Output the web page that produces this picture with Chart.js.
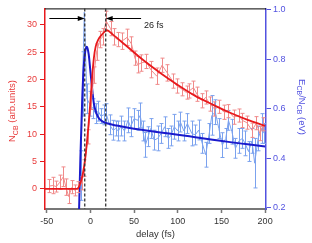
<!DOCTYPE html>
<html>
<head>
<meta charset="utf-8">
<script src="https://cdn.jsdelivr.net/npm/chart.js@4.4.1/dist/chart.umd.min.js"></script>
<style>
body { margin: 0; background: #fff; }
#wrap { width: 312px; height: 243px; position: relative; }
</style>
</head>
<body>
<div id="wrap"><canvas id="myChart"></canvas></div>
<script>
// Measured N_CB (left axis) with error bars
const redX = [-47,-43,-39,-35,-31,-28,-25,-21,-18,-14,-10,-7,-3,1,4,7,11,14,18,23,27,31,36,42,47,51,54,58,64,69,76,82,88,94,99,105,110,113,118,122,128,132,137,142,147,153,158,164,170,174,179,185,190,194,198];
const redY = [0.5,0.6,0.4,1.2,2.2,0.3,-1.4,0.3,-0.3,0.3,1.0,3.8,9.5,16,20.8,25,27.3,27.8,30.7,29.3,27.8,27.3,27.0,27.7,26.5,23.9,22.7,23.0,23.3,21.8,20.6,22.6,21.2,19.7,18.8,18.2,17.6,17.9,18.5,17.3,16.1,16.7,15.5,14.6,15.0,14.0,14.2,13.1,13.4,12.5,12.1,10.7,12.0,10.1,11.8];
const redErr = [1.2,1.5,1.0,1.3,1.8,1.5,1.3,1.2,1.0,1.0,1.2,1.5,1.3,1.5,1.5,1.5,1.5,1.5,1.8,1.3,1.5,1.3,1.5,1.5,1.3,1.3,1.5,1.5,1.3,1.5,1.5,1.3,1.5,1.3,1.3,1.2,1.2,1.3,1.2,1.3,1.3,1.2,1.3,1.3,1.2,1.3,1.2,1.3,1.2,1.3,1.2,1.3,1.2,1.3,1.2];

// Fit to N_CB
const redFitX = [-52,-15,-12,-9,-6,-4,-2,0,2,4,6,9,12,16,19,25,40,60,80,100,120,140,160,180,200];
const redFitY = [0,0,0.8,2.5,5.5,8.5,12,16,20.5,24,26,27.3,28,28.7,29,28.3,26.3,23.6,21.2,19,17,15.4,13.9,12.6,11.5];

// Measured E_CB/N_CB (right axis) with error bars
const blueX = [-11,-9,-7,-4,-1,3,6,9,12,15,18,22,26,29,32,35,39,43,46,50,54,57,60,63,66,69,73,77,81,85,89,92,96,100,103,107,111,116,120,124,128,132,136,139,143,147,151,155,158,162,166,170,174,177,181,185,188,192,196,199];
const blueY = [0.33,0.7,0.99,0.64,0.62,0.6,0.58,0.59,0.57,0.575,0.58,0.535,0.513,0.52,0.51,0.53,0.51,0.553,0.527,0.56,0.553,0.573,0.51,0.454,0.487,0.52,0.473,0.48,0.5,0.527,0.48,0.49,0.527,0.51,0.546,0.51,0.54,0.5,0.494,0.514,0.46,0.414,0.5,0.573,0.586,0.52,0.453,0.48,0.553,0.507,0.44,0.47,0.48,0.46,0.427,0.47,0.38,0.48,0.52,0.5];
const blueErr = [0.1,0.13,0,0.06,0.05,0.04,0.04,0.04,0.03,0.04,0.04,0.04,0.04,0.03,0.04,0.04,0.04,0.05,0.04,0.04,0.04,0.05,0.04,0.05,0.04,0.04,0.04,0.05,0.04,0.04,0.04,0.04,0.05,0.04,0.04,0.04,0.04,0.05,0.04,0.04,0.04,0.05,0.04,0.08,0.05,0.04,0.05,0.04,0.04,0.05,0.04,0.05,0.04,0.05,0.04,0.05,0.1,0.05,0.06,0.04];

// Fit to E_CB/N_CB
const blueFitX = [-13,-11.5,-9.5,-8,-6,-4,-2,0,2,4,7,10,14,20,30,45,60,80,100,120,140,160,180,200];
const blueFitY = [0.19,0.4,0.625,0.75,0.83,0.85,0.82,0.75,0.68,0.62,0.58,0.56,0.548,0.54,0.532,0.522,0.514,0.504,0.495,0.485,0.475,0.465,0.456,0.447];

// Tick labels
const xTicks = [-50, 0, 50, 100, 150, 200];
const leftTicks = [0, 5, 10, 15, 20, 25, 30];
const rightTicks = [0.2, 0.4, 0.6, 0.8, 1.0];

// Markers: dashed lines and the 26 fs arrows
const markerTimes = [-6.5, 17.5];
const arrowLevel = 31.2;
const arrowLeftStart = -47;
const arrowRightStart = 58;
const gapLabel = '26 fs';

const FONT = "'Liberation Sans', Arial, sans-serif";
const RED = '#e8191c';
const RED_LIGHT = '#f08a8a';
const BLUE = '#1a1acc';
const BLUE_LIGHT = '#7ba2ee';
const BLUE_AXIS = '#5252e0';

const pts = (xs, ys) => xs.map((x, i) => ({ x: x, y: ys[i] }));

// Draws text with a subscript part, e.g. N + CB
function subText(ctx, parts, x, y) {
    let cx = x;
    parts.forEach(p => {
        ctx.font = (p.sub ? '7px ' : '9.5px ') + FONT;
        ctx.fillText(p.t, cx, y + (p.sub ? 2.5 : 0));
        cx += ctx.measureText(p.t).width;
    });
}
function partsWidth(ctx, parts) {
    let w = 0;
    parts.forEach(p => {
        ctx.font = (p.sub ? '7px ' : '9.5px ') + FONT;
        w += ctx.measureText(p.t).width;
    });
    return w;
}

const extras = {
    id: 'extras',
    afterDatasetDraw(chart, args) {
        const ds = chart.data.datasets[args.index];
        if (!ds.errs) return;
        const ctx = chart.ctx;
        const a = chart.chartArea;
        const xs = chart.scales.x, ys = chart.scales[ds.yAxisID];
        ctx.save();
        ctx.beginPath();
        ctx.rect(a.left, a.top, a.right - a.left, a.bottom - a.top);
        ctx.clip();
        ctx.strokeStyle = ds.borderColor;
        ctx.lineWidth = 1;
        ds.data.forEach((p, i) => {
            const e = ds.errs[i];
            if (!e) return;
            const px = Math.round(xs.getPixelForValue(p.x)) + 0.5;
            const y1 = ys.getPixelForValue(p.y - e);
            const y2 = ys.getPixelForValue(p.y + e);
            ctx.beginPath();
            ctx.moveTo(px, y1); ctx.lineTo(px, y2);
            ctx.moveTo(px - 2, y1); ctx.lineTo(px + 2, y1);
            ctx.moveTo(px - 2, y2); ctx.lineTo(px + 2, y2);
            ctx.stroke();
        });
        ctx.restore();
    },
    afterDraw(chart) {
        const ctx = chart.ctx;
        const a = chart.chartArea;
        const xs = chart.scales.x, yl = chart.scales.yL;
        ctx.save();

        // top frame line
        ctx.strokeStyle = '#000';
        ctx.lineWidth = 1;
        ctx.beginPath();
        ctx.moveTo(a.left, a.top + 0.5);
        ctx.lineTo(a.right, a.top + 0.5);
        ctx.stroke();

        // dashed markers
        ctx.strokeStyle = '#333';
        ctx.lineWidth = 1.3;
        ctx.setLineDash([3, 2]);
        markerTimes.forEach(t => {
            const px = xs.getPixelForValue(t);
            ctx.beginPath();
            ctx.moveTo(px, a.top);
            ctx.lineTo(px, a.bottom);
            ctx.stroke();
        });
        ctx.setLineDash([]);

        // arrows
        const ay = Math.round(yl.getPixelForValue(arrowLevel)) + 0.5;
        const arrow = (from, to) => {
            const x0 = xs.getPixelForValue(from), x1 = xs.getPixelForValue(to);
            const dir = Math.sign(x1 - x0);
            ctx.strokeStyle = '#000';
            ctx.fillStyle = '#000';
            ctx.lineWidth = 1;
            ctx.beginPath();
            ctx.moveTo(x0, ay);
            ctx.lineTo(x1 - dir * 6, ay);
            ctx.stroke();
            ctx.beginPath();
            ctx.moveTo(x1, ay);
            ctx.lineTo(x1 - dir * 7, ay - 2.5);
            ctx.lineTo(x1 - dir * 7, ay + 2.5);
            ctx.closePath();
            ctx.fill();
        };
        arrow(arrowLeftStart, markerTimes[0]);
        arrow(arrowRightStart, markerTimes[1]);

        ctx.fillStyle = '#222';
        ctx.font = '9px ' + FONT;
        ctx.textBaseline = 'alphabetic';
        ctx.fillText(gapLabel, xs.getPixelForValue(arrowRightStart) + 3, ay + 9);

        // left axis title (rotated)
        const leftParts = [{ t: 'N' }, { t: 'CB', sub: true }, { t: ' (arb.units)' }];
        ctx.save();
        ctx.translate(15, 111);
        ctx.rotate(-Math.PI / 2);
        ctx.fillStyle = '#e83a3a';
        subText(ctx, leftParts, -partsWidth(ctx, leftParts) / 2, 0);
        ctx.restore();

        // right axis title (rotated)
        const rightParts = [{ t: 'E' }, { t: 'CB', sub: true }, { t: '/N' }, { t: 'CB', sub: true }, { t: ' (eV)' }];
        ctx.save();
        ctx.translate(299, 107);
        ctx.rotate(Math.PI / 2);
        ctx.fillStyle = BLUE_AXIS;
        subText(ctx, rightParts, -partsWidth(ctx, rightParts) / 2, 0);
        ctx.restore();

        // x axis title
        ctx.fillStyle = '#333';
        ctx.font = '9.5px ' + FONT;
        ctx.textAlign = 'center';
        ctx.fillText('delay (fs)', (a.left + a.right) / 2, 237);

        ctx.restore();
    }
};

const ctx = document.getElementById('myChart').getContext('2d');
const myChart = new Chart(ctx, {
    type: 'line',
    data: {
        datasets: [
            {
                label: 'E/N data',
                data: pts(blueX, blueY),
                errs: blueErr,
                yAxisID: 'yR',
                borderColor: BLUE_LIGHT,
                borderWidth: 1,
                pointRadius: 0,
                order: 4
            },
            {
                label: 'E/N fit',
                data: pts(blueFitX, blueFitY),
                yAxisID: 'yR',
                borderColor: BLUE,
                borderWidth: 2,
                pointRadius: 0,
                cubicInterpolationMode: 'monotone',
                order: 3
            },
            {
                label: 'N data',
                data: pts(redX, redY),
                errs: redErr,
                yAxisID: 'yL',
                borderColor: RED_LIGHT,
                borderWidth: 1,
                pointRadius: 0,
                order: 2
            },
            {
                label: 'N fit',
                data: pts(redFitX, redFitY),
                yAxisID: 'yL',
                borderColor: RED,
                borderWidth: 1.8,
                pointRadius: 0,
                cubicInterpolationMode: 'monotone',
                order: 1
            }
        ]
    },
    options: {
        responsive: true,
        maintainAspectRatio: false,
        animation: false,
        layout: { padding: { top: 4, left: 0, right: 0, bottom: 0 } },
        plugins: { legend: { display: false }, tooltip: { enabled: false } },
        scales: {
            x: {
                type: 'linear',
                min: -52,
                max: 201,
                afterFit: s => { s.height = 34; },
                afterBuildTicks: s => { s.ticks = xTicks.map(v => ({ value: v })); },
                ticks: { color: '#333', font: { size: 9, family: FONT }, padding: 3, maxRotation: 0, autoSkip: false, callback: v => String(v) },
                grid: { drawOnChartArea: false, drawTicks: true, tickLength: 4, tickColor: '#777', tickWidth: 1.5 },
                border: { color: '#777', width: 2 }
            },
            yL: {
                type: 'linear',
                position: 'left',
                min: -3.7,
                max: 33,
                afterFit: s => { s.width = 45; },
                afterBuildTicks: s => { s.ticks = leftTicks.map(v => ({ value: v })); },
                ticks: { color: '#e83a3a', font: { size: 9, family: FONT }, padding: 3, callback: v => String(v) },
                grid: { drawOnChartArea: false, drawTicks: true, tickLength: 5, tickColor: RED, tickWidth: 1 },
                border: { color: RED, width: 1.5 }
            },
            yR: {
                type: 'linear',
                position: 'right',
                min: 0.195,
                max: 1.005,
                afterFit: s => { s.width = 46; },
                afterBuildTicks: s => { s.ticks = rightTicks.map(v => ({ value: v })); },
                ticks: { color: BLUE_AXIS, font: { size: 9, family: FONT }, padding: 2, callback: v => v.toFixed(1) },
                grid: { drawOnChartArea: false, drawTicks: true, tickLength: 5, tickColor: BLUE_AXIS, tickWidth: 1 },
                border: { color: BLUE_AXIS, width: 1.5 }
            }
        }
    },
    plugins: [extras]
});
</script>
</body>
</html>
